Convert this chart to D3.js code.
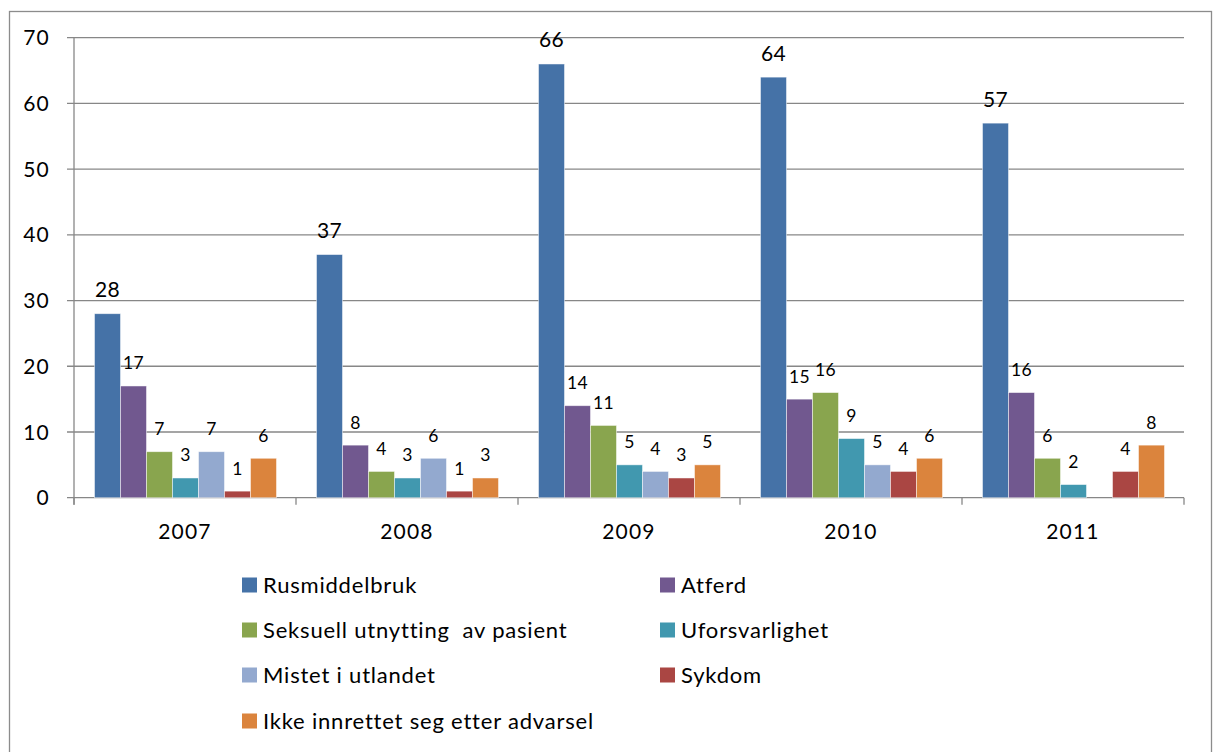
<!DOCTYPE html>
<html>
<head>
<meta charset="utf-8">
<script src="https://cdn.jsdelivr.net/npm/d3@7/dist/d3.min.js"></script>
<style>
  body { margin: 0; background: #fff; }
  svg text { font-family: Lato, "Open Sans", sans-serif; fill: #000; }
</style>
</head>
<body>
<script>
// Categories, series and values
let years = ["2007", "2008", "2009", "2010", "2011"];
let seriesNames = ["Rusmiddelbruk", "Atferd", "Seksuell utnytting  av pasient", "Uforsvarlighet",
                   "Mistet i utlandet", "Sykdom", "Ikke innrettet seg etter advarsel"];
let seriesColors = ["#4572A7", "#71588F", "#89A54E", "#4198AF", "#93A9CF", "#AA4643", "#DB843D"];
let rusmiddelbruk = [28, 37, 66, 64, 57];
let atferd = [17, 8, 14, 15, 16];
let seksuell = [7, 4, 11, 16, 6];
let uforsvarlighet = [3, 3, 5, 9, 2];
let mistet = [7, 6, 4, 5, null];
let sykdom = [1, 1, 3, 4, 4];
let ikkeInnrettet = [6, 3, 5, 6, 8];
let yTicks = [0, 10, 20, 30, 40, 50, 60, 70];

let seriesValues = [rusmiddelbruk, atferd, seksuell, uforsvarlighet, mistet, sykdom, ikkeInnrettet];

// Dimensions
let svgWidth = 1213;
let svgHeight = 752;
let plot = { left: 74, right: 1184, top: 37.7, bottom: 497.7 };

let svg = d3.select("body")
            .append("svg")
            .attr("width", svgWidth)
            .attr("height", svgHeight);

// outer frame
svg.append("rect")
   .attr("x", 9.5).attr("y", 11.5)
   .attr("width", 1202).attr("height", 800)
   .attr("fill", "none").attr("stroke", "#8c8c8c").attr("stroke-width", 1.3);

// Scales
let x0 = d3.scaleBand().domain(years).range([plot.left, plot.right]);
let x1 = d3.scaleBand().domain(d3.range(seriesNames.length)).range([20.5, x0.bandwidth() - 19.5]);
let y = d3.scaleLinear().domain([0, 70]).range([plot.bottom, plot.top]);

// Gridlines
svg.append("g")
   .selectAll("line")
   .data(yTicks)
   .enter()
   .append("line")
   .attr("x1", plot.left - 7).attr("x2", plot.right)
   .attr("y1", d => y(d)).attr("y2", d => y(d))
   .attr("stroke", "#878787").attr("stroke-width", 1.3);

// Y axis line + labels
svg.append("line")
   .attr("x1", plot.left).attr("x2", plot.left)
   .attr("y1", plot.top).attr("y2", plot.bottom + 7)
   .attr("stroke", "#878787").attr("stroke-width", 1.3);
svg.append("g")
   .selectAll("text")
   .data(yTicks)
   .enter()
   .append("text")
   .attr("x", 50)
   .attr("y", d => y(d))
   .attr("dy", "0.36em")
   .attr("text-anchor", "end")
   .attr("font-size", 21)
   .attr("letter-spacing", 1.2)
   .text(d => d);

// X axis ticks at band boundaries
let boundaries = years.map(d => x0(d)).concat([plot.right]);
svg.append("g")
   .selectAll("line")
   .data(boundaries)
   .enter()
   .append("line")
   .attr("x1", d => d).attr("x2", d => d)
   .attr("y1", plot.bottom).attr("y2", plot.bottom + 7)
   .attr("stroke", "#878787").attr("stroke-width", 1.3);
svg.append("g")
   .selectAll("text")
   .data(years)
   .enter()
   .append("text")
   .attr("x", d => x0(d) + x0.bandwidth() / 2)
   .attr("y", 539)
   .attr("text-anchor", "middle")
   .attr("font-size", 21)
   .attr("letter-spacing", 1.2)
   .text(d => d);

// Bars
let cells = [];
years.forEach((yr, i) => {
    seriesValues.forEach((vals, s) => {
        if (vals[i] !== null) cells.push({ year: yr, s: s, v: vals[i] });
    });
});

svg.append("g")
   .selectAll("rect")
   .data(cells)
   .enter()
   .append("rect")
   .attr("x", d => x0(d.year) + x1(d.s))
   .attr("y", d => y(d.v))
   .attr("width", x1.bandwidth())
   .attr("height", d => y(0) - y(d.v))
   .attr("fill", d => seriesColors[d.s])
   .attr("stroke", "#ffffff").attr("stroke-opacity", 0.6).attr("stroke-width", 0.8);

// Data labels
svg.append("g")
   .selectAll("text")
   .data(cells)
   .enter()
   .append("text")
   .attr("x", d => x0(d.year) + x1(d.s) + x1.bandwidth() / 2)
   .attr("y", d => y(d.v) - 16.5)
   .attr("text-anchor", "middle")
   .attr("font-size", d => d.s === 0 ? 21 : 17.5)
   .attr("letter-spacing", 0.4)
   .text(d => d.v);

// Legend
let legendCols = [242, 660];
let legendRows = [585, 630, 675, 721];
let legend = svg.append("g")
                .selectAll("g")
                .data(seriesNames)
                .enter()
                .append("g")
                .attr("transform", (d, i) => `translate(${legendCols[i % 2]}, ${legendRows[Math.floor(i / 2)]})`);
legend.append("rect")
      .attr("x", 0).attr("y", -7.5)
      .attr("width", 15).attr("height", 15)
      .attr("fill", (d, i) => seriesColors[i]);
legend.append("text")
      .attr("x", 21)
      .attr("dy", "0.36em")
      .attr("font-size", 22)
      .attr("letter-spacing", 0.8)
      .style("white-space", "pre")
      .text(d => d);
</script>
</body>
</html>
